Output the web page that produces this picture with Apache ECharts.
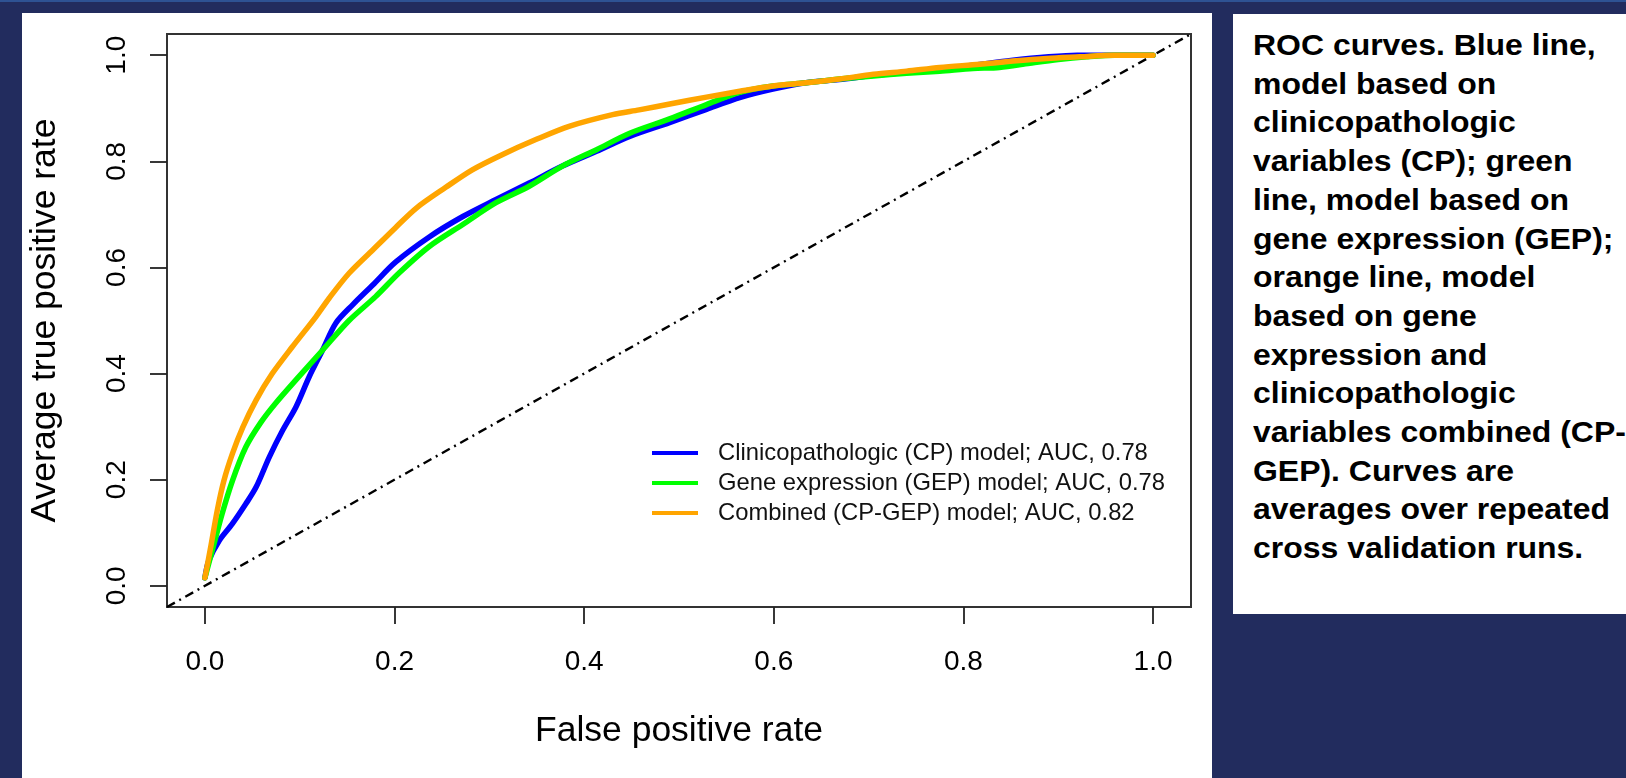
<!DOCTYPE html>
<html>
<head>
<meta charset="utf-8">
<title>ROC curves</title>
<script src="https://cdn.jsdelivr.net/npm/echarts@6/dist/echarts.min.js"></script>
<style>
  html, body { margin: 0; padding: 0; }
  body {
    width: 1626px; height: 778px; overflow: hidden; position: relative;
    background: #222c5e;
    font-family: 'Liberation Sans', Arial, sans-serif;
  }
  .topline { position: absolute; left: 0; top: 0; width: 1626px; height: 2px; background: #2e5293; }
  .panel { position: absolute; left: 22px; top: 13px; width: 1190px; height: 765px; background: #fff; }
  .caption { position: absolute; left: 1233px; top: 13.5px; width: 393px; height: 600px; background: #fff; overflow: hidden; }
  .caption p {
    margin: 0; position: absolute; left: 20px; top: 12.5px;
    font: bold 30px/38.7px 'Liberation Sans', Arial, sans-serif;
    color: #000; white-space: nowrap;
    transform: scaleX(1.065); transform-origin: left top;
  }
  #chart { position: absolute; left: 0; top: 0; width: 1626px; height: 778px; }
</style>
</head>
<body>
<div class="topline"></div>
<div class="panel"></div>
<div class="caption">
  <p>ROC curves. Blue line,<br>model based on<br>clinicopathologic<br>variables (CP); green<br>line, model based on<br>gene expression (GEP);<br>orange line, model<br>based on gene<br>expression and<br>clinicopathologic<br>variables combined (CP-<br>GEP). Curves are<br>averages over repeated<br>cross validation runs.</p>
</div>
<div id="chart"></div>

<script>
// false positive rate / average true positive rate
const fprCP = [0, 0.004, 0.015, 0.029, 0.043, 0.054, 0.068, 0.082, 0.096, 0.110, 0.124, 0.138, 0.156, 0.177, 0.201, 0.237, 0.272, 0.307, 0.342, 0.377, 0.413, 0.448, 0.490, 0.529, 0.564, 0.599, 0.634, 0.669, 0.705, 0.740, 0.775, 0.810, 0.850, 0.890, 0.920, 0.950, 1.0]
const tprCP = [0.015, 0.047, 0.085, 0.117, 0.154, 0.186, 0.243, 0.293, 0.337, 0.394, 0.444, 0.495, 0.530, 0.567, 0.610, 0.658, 0.696, 0.728, 0.759, 0.791, 0.819, 0.847, 0.873, 0.898, 0.920, 0.936, 0.948, 0.954, 0.962, 0.968, 0.974, 0.981, 0.990, 0.997, 1.0, 1.0, 1.0]

const fprGEP = [0, 0.0096, 0.018, 0.029, 0.043, 0.059, 0.075, 0.096, 0.124, 0.152, 0.180, 0.205, 0.237, 0.272, 0.307, 0.342, 0.377, 0.413, 0.448, 0.490, 0.529, 0.564, 0.599, 0.634, 0.669, 0.705, 0.740, 0.775, 0.810, 0.838, 0.870, 0.900, 0.930, 0.960, 1.0]
const tprGEP = [0.015, 0.079, 0.135, 0.198, 0.261, 0.308, 0.345, 0.388, 0.444, 0.500, 0.545, 0.590, 0.640, 0.681, 0.722, 0.753, 0.791, 0.822, 0.853, 0.880, 0.907, 0.930, 0.942, 0.948, 0.955, 0.961, 0.966, 0.970, 0.975, 0.977, 0.985, 0.992, 0.997, 1.0, 1.0]

const fprComb = [0, 0.006, 0.013, 0.020, 0.029, 0.040, 0.054, 0.071, 0.092, 0.117, 0.131, 0.152, 0.177, 0.201, 0.223, 0.254, 0.282, 0.314, 0.349, 0.384, 0.430, 0.458, 0.493, 0.529, 0.564, 0.599, 0.634, 0.669, 0.705, 0.740, 0.775, 0.817, 0.852, 0.888, 0.923, 0.958, 1.0]
const tprComb = [0.015, 0.072, 0.142, 0.198, 0.249, 0.299, 0.350, 0.400, 0.450, 0.507, 0.542, 0.589, 0.633, 0.675, 0.712, 0.751, 0.784, 0.813, 0.841, 0.866, 0.888, 0.897, 0.909, 0.921, 0.932, 0.942, 0.948, 0.955, 0.964, 0.970, 0.977, 0.983, 0.989, 0.994, 0.997, 1.0, 1.0]

const modelNames = [
    'Clinicopathologic (CP) model; AUC, 0.78',
    'Gene expression (GEP) model; AUC, 0.78',
    'Combined (CP-GEP) model; AUC, 0.82'
]
const modelColors = ['#0000ff', '#00ff00', '#ffa500']
const tickValues = [0, 0.2, 0.4, 0.6, 0.8, 1.0]
const chanceLine = [-0.04, 1.04]

const zip = (xs, ys) => xs.map((x, i) => [x, ys[i]])
const curves = [zip(fprCP, tprCP), zip(fprGEP, tprGEP), zip(fprComb, tprComb)]

const font = "'Liberation Sans', Arial, sans-serif"

const chart = echarts.init(document.getElementById('chart'))

const series = curves.map((data, i) => ({
    name: modelNames[i],
    type: 'line',
    data: data,
    showSymbol: false,
    symbol: 'none',
    smooth: 0.3,
    color: modelColors[i],
    lineStyle: { color: modelColors[i], width: 5.5, cap: 'round', join: 'round' },
    z: 3 + i
}))

series.unshift({
    name: 'chance',
    type: 'line',
    data: zip(chanceLine, chanceLine),
    showSymbol: false,
    symbol: 'none',
    silent: true,
    lineStyle: { color: '#000', width: 2.4, type: [9, 5, 2, 5] },
    z: 2
})

const axisCommon = {
    type: 'value',
    min: -0.04,
    max: 1.04,
    nameLocation: 'middle',
    nameTextStyle: { fontFamily: font, fontSize: 35.5, color: '#000' },
    axisLine: { show: false, onZero: false },
    axisTick: { show: true, length: 17, customValues: tickValues, lineStyle: { color: '#222', width: 1.8 } },
    splitLine: { show: false }
}

chart.setOption({
    animation: false,
    backgroundColor: 'transparent',
    grid: {
        left: 167, top: 34, width: 1024, height: 573,
        show: true, borderColor: '#333', borderWidth: 2
    },
    legend: {
        data: modelNames,
        orient: 'vertical',
        left: 647,
        top: 433,
        icon: 'rect',
        itemWidth: 46,
        itemHeight: 4,
        itemGap: 0,
        textStyle: { fontFamily: font, fontSize: 23.8, color: '#111', lineHeight: 30, padding: [0, 0, 0, 15] }
    },
    xAxis: Object.assign({}, axisCommon, {
        name: 'False positive rate',
        nameGap: 106,
        axisLabel: {
            customValues: tickValues,
            formatter: v => v.toFixed(1),
            margin: 41,
            fontFamily: font, fontSize: 28, color: '#000'
        }
    }),
    yAxis: Object.assign({}, axisCommon, {
        name: 'Average true positive rate',
        nameGap: 104,
        axisLabel: {
            customValues: tickValues,
            formatter: v => v.toFixed(1),
            rotate: 90,
            margin: 36,
            fontFamily: font, fontSize: 28, color: '#000'
        }
    }),
    series: series
})
</script>
</body>
</html>
